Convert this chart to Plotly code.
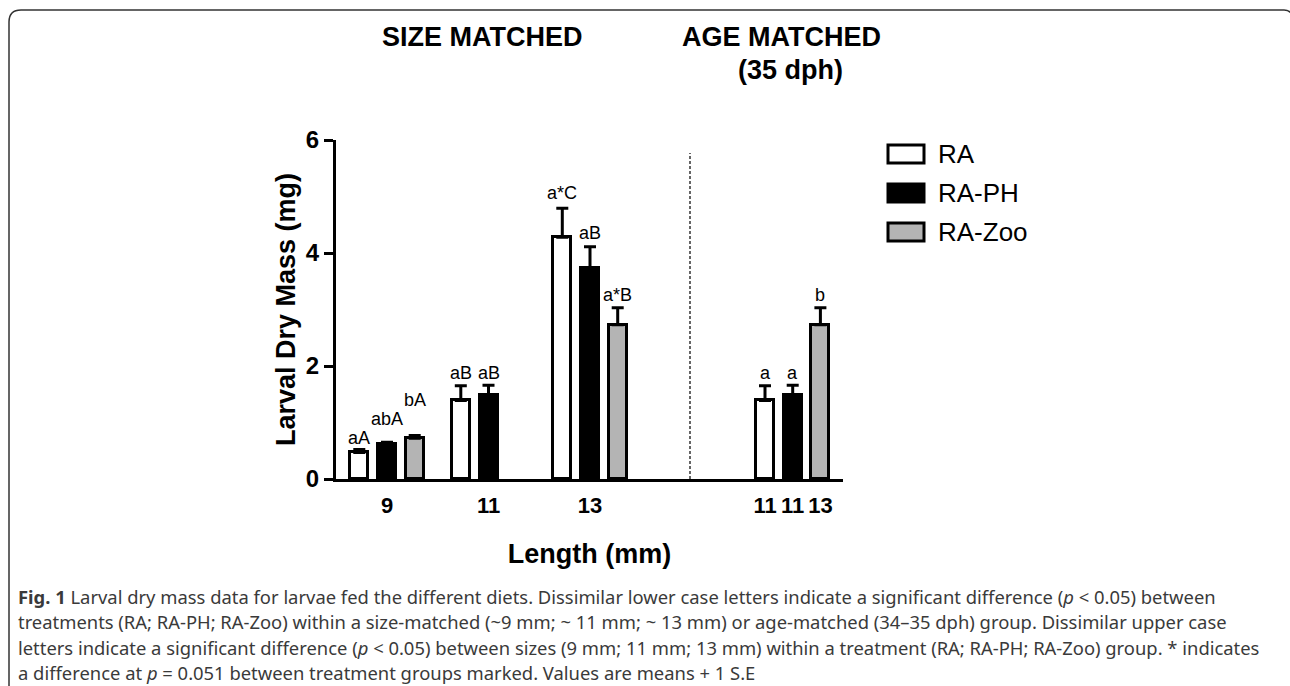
import plotly.graph_objects as go

# ---------------- data ----------------
treatments = ["RA", "RA-PH", "RA-Zoo"]
size_lengths = ["9", "11", "13"]
age_lengths = ["11", "11", "13"]

ra_size = [0.47, 1.39, 4.28]
ph_size = [0.62, 1.48, 3.74]
zoo_size = [0.72, None, 2.73]
ra_size_err = [0.05, 0.26, 0.51]
ph_size_err = [0.03, 0.18, 0.37]
zoo_size_err = [0.05, None, 0.30]

age_values = [1.39, 1.48, 2.73]
age_err = [0.26, 0.18, 0.30]

ra_size_labels = ["aA", "aB", "a*C"]
ph_size_labels = ["abA", "aB", "aB"]
zoo_size_labels = ["bA", "", "a*B"]
age_labels = ["a", "a", "b"]

# label heights (annotation placement, data units)
ra_label_y = [0.72, 1.87, 5.06]
ph_label_y = [1.07, 1.87, 4.35]
zoo_label_y = [1.40, None, 3.26]
age_label_y = [1.87, 1.87, 3.26]

yticks = [0, 2, 4, 6]

# ---------------- layout geometry (pixel-like x units) ----------------
W, H = 1290, 686
PL, PR, PT, PB = 336, 843, 140, 479
group_centers = [387, 488.5, 590]
age_center = 792.7
pitch = 27.7
bar_w = 18
fills = ["white", "black", "#b4b4b4"]

def px(x):
    return (x - PL) / (PR - PL)

def py(y):
    return (PB - y) / (PB - PT)

fig = go.Figure()

size_vals = [ra_size, ph_size, zoo_size]
size_errs = [ra_size_err, ph_size_err, zoo_size_err]
size_labs = [ra_size_labels, ph_size_labels, zoo_size_labels]
size_laby = [ra_label_y, ph_label_y, zoo_label_y]

annotations = []
for i, name in enumerate(treatments):
    xs = [c + (i - 1) * pitch for c in group_centers] + [age_center + (i - 1) * pitch]
    ys = list(size_vals[i]) + [age_values[i]]
    es = list(size_errs[i]) + [age_err[i]]
    fig.add_trace(go.Bar(
        x=xs, y=ys, width=bar_w, name=name,
        marker=dict(color=fills[i], line=dict(color="black", width=3)),
        error_y=dict(type="data", array=es, symmetric=False, arrayminus=[0] * len(es),
                     color="black", thickness=3, width=6),
        showlegend=False,
    ))
    labs = list(size_labs[i]) + [age_labels[i]]
    laby = list(size_laby[i]) + [age_label_y[i]]
    for x, t, ly in zip(xs, labs, laby):
        if t and ly is not None:
            annotations.append(dict(x=x, y=ly, xref="x", yref="y", text=t, showarrow=False,
                                    font=dict(family="Liberation Sans", size=18, color="black"),
                                    xanchor="center", yanchor="middle"))

tickvals = list(group_centers) + [age_center + (k - 1) * pitch for k in range(3)]
ticktext = size_lengths + age_lengths

bold_y = dict(family="Liberation Sans", size=24, color="black", weight="bold")
bold_x = dict(family="Liberation Sans", size=22, color="black", weight="bold")

# section titles
annotations += [
    dict(x=px(482), y=py(37), xref="paper", yref="paper", text="SIZE MATCHED", showarrow=False,
         font=dict(family="Liberation Sans", size=27, color="black", weight="bold"),
         xanchor="center", yanchor="middle"),
    dict(x=px(781), y=py(37), xref="paper", yref="paper", text="AGE MATCHED", showarrow=False,
         font=dict(family="Liberation Sans", size=27, color="black", weight="bold"),
         xanchor="center", yanchor="middle"),
    dict(x=px(790), y=py(70), xref="paper", yref="paper", text="(35 dph)", showarrow=False,
         font=dict(family="Liberation Sans", size=27, color="black", weight="bold"),
         xanchor="center", yanchor="middle"),
]

# manual legend
shapes = []
leg_y = [154, 193, 232]
for i, name in enumerate(treatments):
    shapes.append(dict(type="rect", xref="paper", yref="paper",
                       x0=px(888), x1=px(924), y0=py(leg_y[i] - 9), y1=py(leg_y[i] + 9),
                       fillcolor=fills[i], line=dict(color="black", width=3)))
    annotations.append(dict(x=px(936), y=py(leg_y[i]), xref="paper", yref="paper", text=name,
                            showarrow=False, xanchor="left", yanchor="middle",
                            font=dict(family="Liberation Sans", size=26, color="black")))

# dashed separator
shapes.append(dict(type="line", xref="x", yref="paper", x0=690, x1=690, y0=0, y1=py(153),
                   line=dict(color="#333333", width=1.5, dash="3px,2px")))

# frame with rounded top-left corner
frame_path = (f"M {px(9)},{py(690)} L {px(9)},{py(22)} Q {px(9)},{py(10)} {px(21)},{py(10)} "
              f"L {px(1284)},{py(10)} Q {px(1289)},{py(10)} {px(1292)},{py(14)}")
shapes.append(dict(type="path", xref="paper", yref="paper", path=frame_path,
                   line=dict(color="#333333", width=1.5)))

# caption
cap_font = dict(family="Noto Sans", size=18.4, color="#3a3a3a")
caption_lines = [
    "<b>Fig. 1</b> Larval dry mass data for larvae fed the different diets. Dissimilar lower case letters indicate a significant difference (<i>p</i> &lt; 0.05) between",
    "treatments (RA; RA-PH; RA-Zoo) within a size-matched (~9 mm; ~ 11 mm; ~ 13 mm) or age-matched (34–35 dph) group. Dissimilar upper case",
    "letters indicate a significant difference (<i>p</i> &lt; 0.05) between sizes (9 mm; 11 mm; 13 mm) within a treatment (RA; RA-PH; RA-Zoo) group. * indicates",
    "a difference at <i>p</i> = 0.051 between treatment groups marked. Values are means + 1 S.E",
]
cap_y = [596, 621.5, 647, 672.5]
for t, yy in zip(caption_lines, cap_y):
    annotations.append(dict(x=px(16), y=py(yy), xref="paper", yref="paper", text=t, showarrow=False,
                            xanchor="left", yanchor="middle", align="left", font=cap_font))

fig.update_layout(
    width=W, height=H, autosize=False,
    margin=dict(l=PL, r=W - PR, t=PT, b=H - PB, pad=0),
    paper_bgcolor="white", plot_bgcolor="white",
    bargap=0, barmode="overlay",
    annotations=annotations, shapes=shapes,
    xaxis=dict(range=[PL, PR], tickvals=tickvals, ticktext=ticktext, ticks="outside", ticklen=5,
               tickangle=0, tickcolor="rgba(0,0,0,0)", showline=True, linecolor="black", linewidth=3,
               showgrid=False, zeroline=False, tickfont=bold_x,
               title=dict(text="Length (mm)", standoff=27,
                          font=dict(family="Liberation Sans", size=27, color="black", weight="bold"))),
    yaxis=dict(range=[0, 6], tickvals=yticks, ticks="outside", ticklen=9, tickwidth=3, tickcolor="black",
               showline=True, linecolor="black", linewidth=3, showgrid=False, zeroline=False,
               tickfont=bold_y,
               title=dict(text="Larval Dry Mass (mg)", standoff=3,
                          font=dict(family="Liberation Sans", size=27, color="black", weight="bold"))),
)

fig.write_html("out.html")
